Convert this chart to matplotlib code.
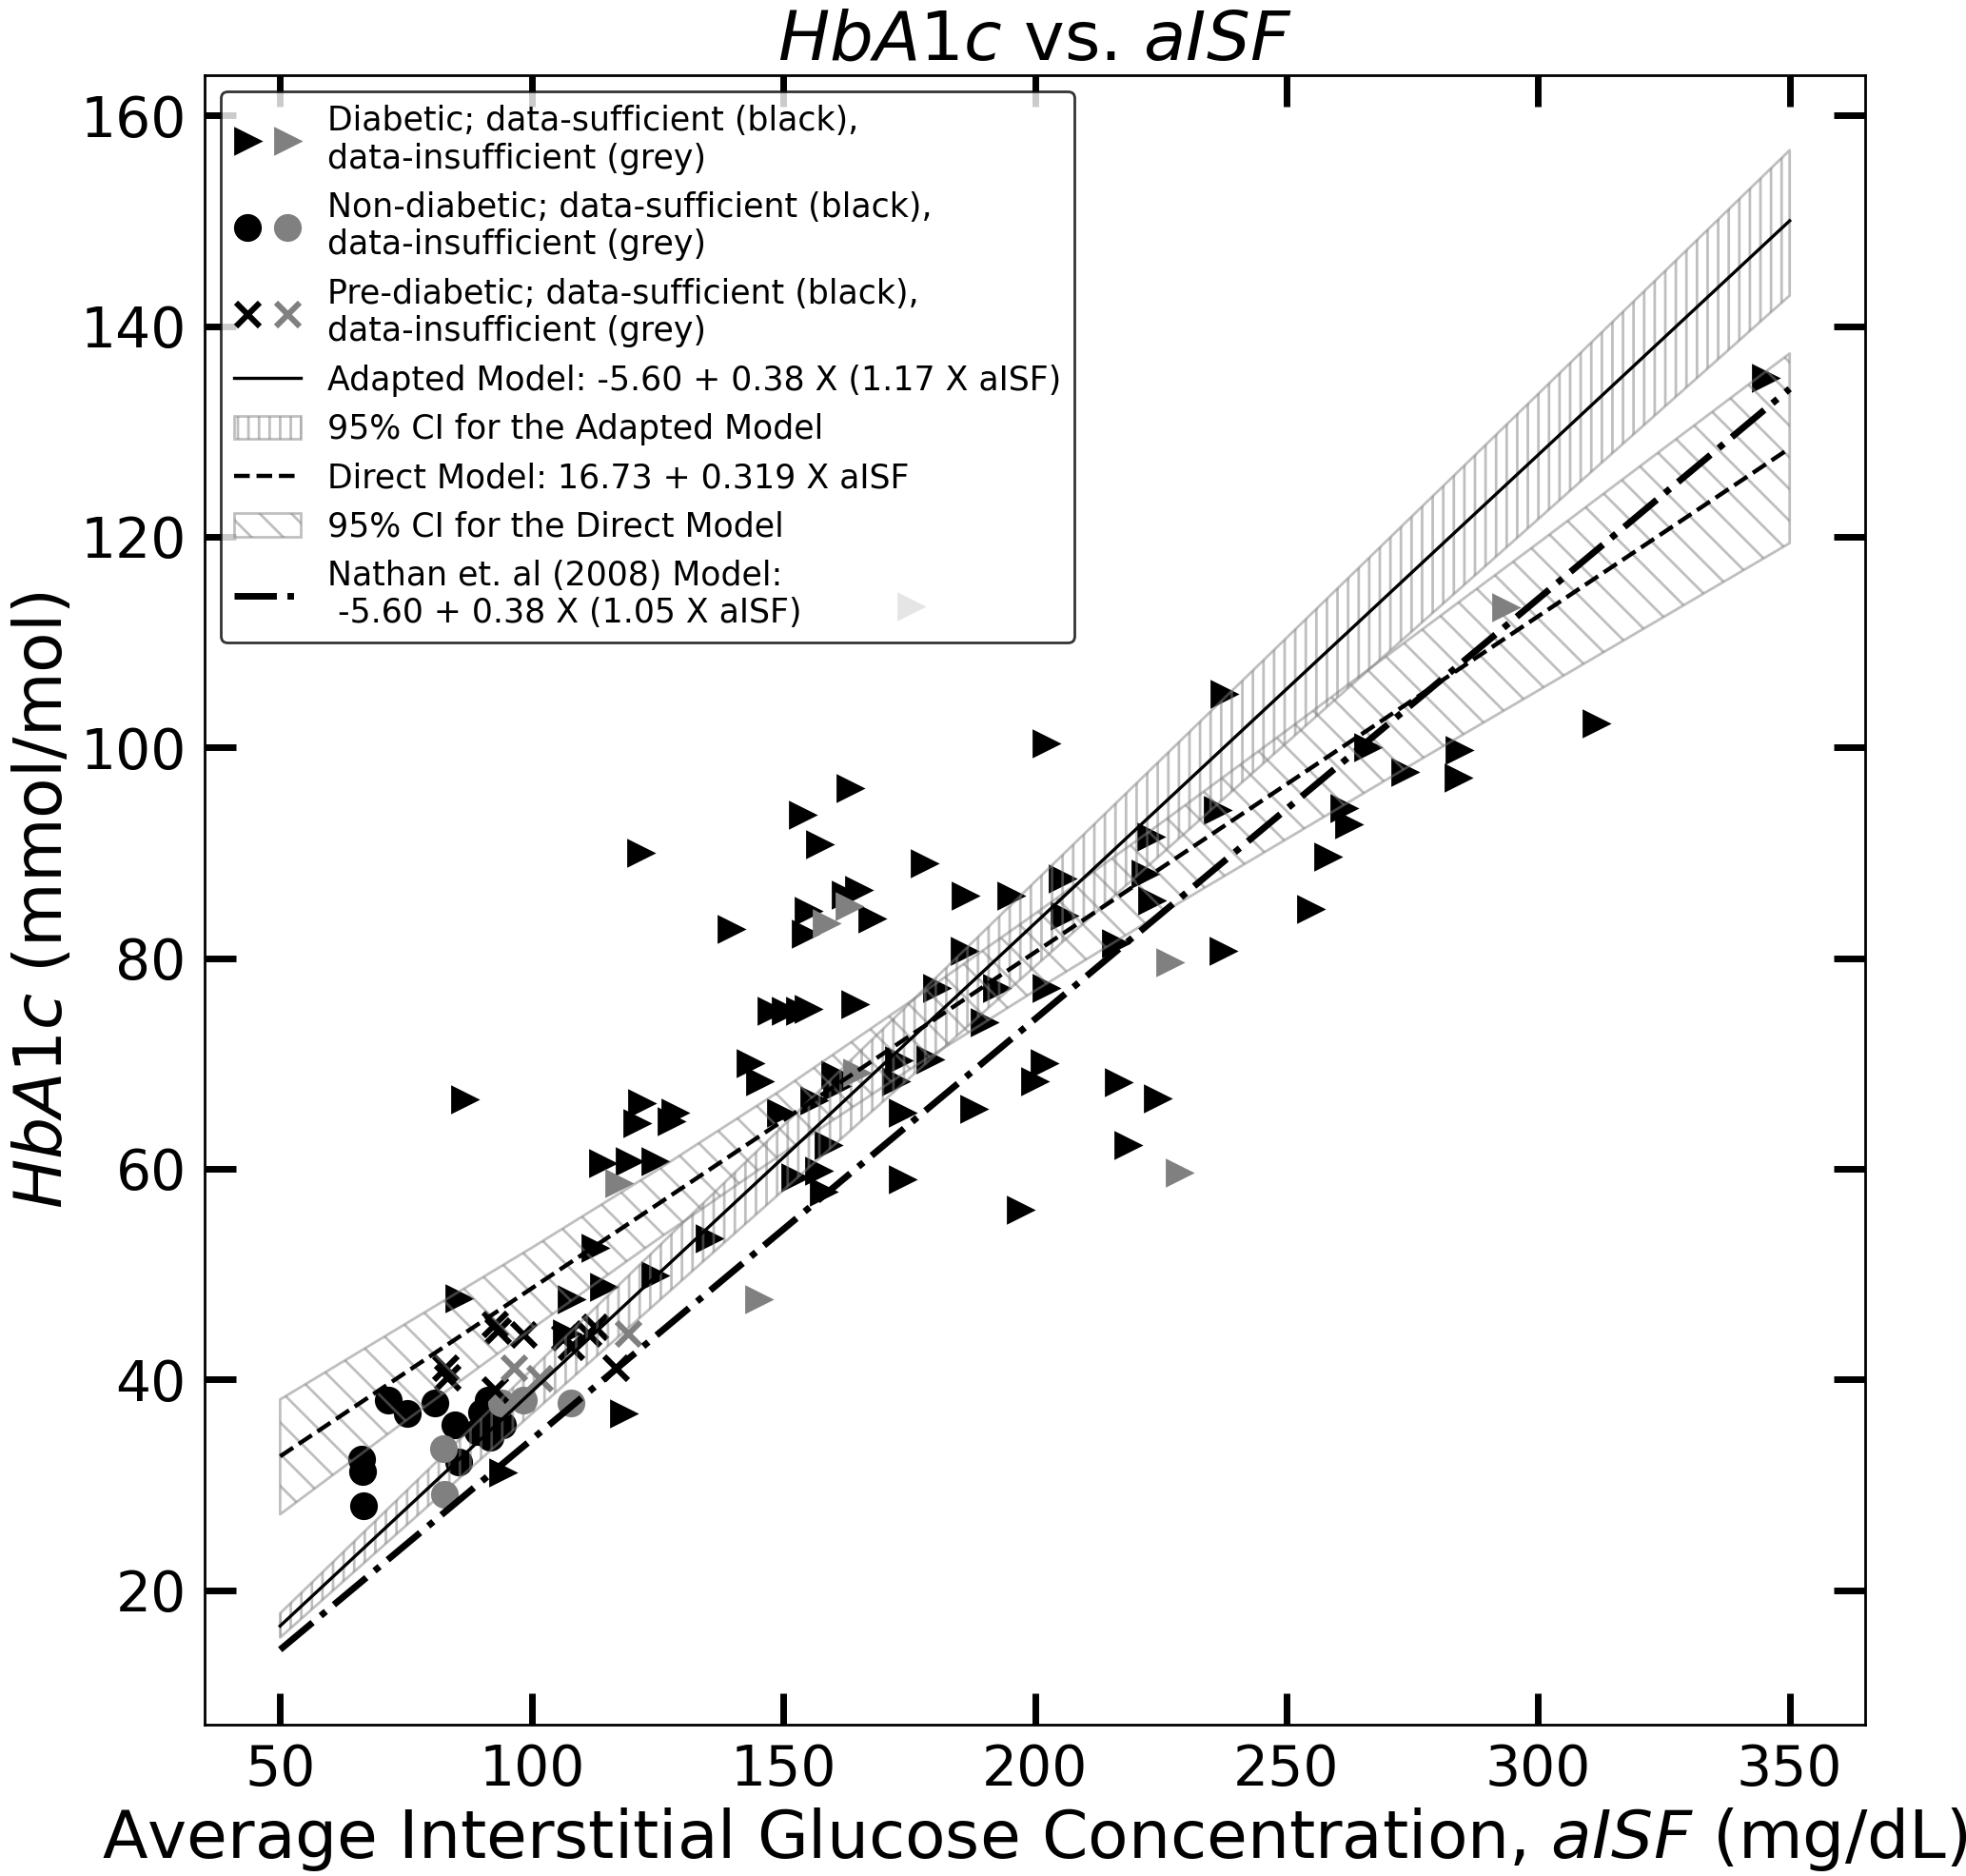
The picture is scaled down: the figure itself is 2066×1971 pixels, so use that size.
import matplotlib.pyplot as plt
from matplotlib.legend_handler import HandlerTuple
from matplotlib.patches import Patch

# diabetic, data-sufficient (black)
diab_x = [345.2, 311.4, 237.5, 202.1, 284.2, 266.1, 273.4, 284.0, 163.3, 153.7,
          236.2, 261.4, 262.4, 222.9, 258.1, 157.1, 121.6, 177.9, 164.9, 162.3,
          205.3, 186.1, 195.2, 221.9, 154.8, 167.5, 139.6, 154.3, 205.7, 223.2,
          254.8, 164.1, 147.6, 150.4, 153.2, 154.8, 180.5, 202.1, 185.9, 215.9,
          237.4, 192.3, 189.8, 143.3, 145.2, 160.1, 172.8, 179.1, 172.3, 160.5,
          201.8, 199.9, 216.5, 224.2, 156.0, 149.4, 173.7, 187.7, 121.7, 120.9,
          128.4, 127.6, 86.6, 114.1, 119.3, 124.5, 158.9, 218.5, 152.3, 157.0,
          173.7, 157.9, 197.0, 135.2, 112.5, 124.4, 114.2, 107.8, 85.5, 118.2,
          94.2, 106.8]
diab_y = [135.1, 102.3, 105.1, 100.4, 99.8, 100.0, 97.7, 97.1, 96.1, 93.6,
          94.1, 94.2, 92.7, 91.5, 89.6, 90.8, 90.0, 89.0, 86.5, 86.0,
          87.6, 85.9, 85.9, 88.0, 84.5, 83.8, 82.8, 82.3, 84.0, 85.5,
          84.7, 75.6, 75.0, 75.0, 75.0, 75.2, 77.2, 77.2, 80.7, 81.4,
          80.7, 77.2, 73.9, 70.0, 68.3, 68.9, 70.3, 70.4, 68.3, 67.9,
          70.0, 68.3, 68.2, 66.7, 66.5, 65.3, 65.3, 65.7, 66.2, 64.3,
          65.3, 64.5, 66.6, 60.5, 60.7, 60.7, 62.3, 62.3, 59.2, 59.8,
          59.0, 57.8, 56.1, 53.4, 52.5, 49.9, 48.8, 47.6, 47.7, 36.8,
          31.2, 44.4]

# diabetic, data-insufficient (grey)
diab_g_x = [293.5, 175.4, 226.7, 228.6, 163.0, 158.4, 117.2, 145.0, 164.6]
diab_g_y = [113.3, 113.4, 79.6, 59.6, 84.9, 83.3, 58.6, 47.6, 69.1]

# non-diabetic
nond_x = [66.1, 66.4, 66.6, 71.5, 75.3, 80.8, 84.7, 85.4, 91.4, 90.1, 94.2, 89.2, 91.7, 92.8]
nond_y = [32.4, 31.3, 28.0, 38.0, 36.8, 37.8, 35.7, 32.2, 38.0, 36.9, 35.7, 35.1, 34.5, 36.5]
nond_g_x = [82.5, 82.7, 93.9, 98.3, 107.8]
nond_g_y = [33.4, 29.1, 37.8, 38.0, 37.8]

# pre-diabetic
pre_x = [82.9, 83.2, 92.6, 93.3, 98.3, 92.6, 106.5, 107.8, 112.5, 111.2, 116.6]
pre_y = [41.1, 40.2, 45.3, 44.6, 44.3, 39.0, 44.0, 43.1, 45.0, 44.4, 41.1]
pre_g_x = [96.4, 101.5, 119.1]
pre_g_y = [41.1, 40.1, 44.4]

# model lines (end points)
model_x = [50, 350]
adapted_y = [16.6, 150.0]
direct_y = [32.7, 128.4]
nathan_y = [14.35, 134.05]

# confidence bands
ci_ad_x = [50, 350]
ci_ad_lo = [15.5, 142.9]
ci_ad_hi = [17.8, 156.7]

ci_dir_x = [50, 75, 100, 125, 150, 175, 200, 225, 250, 275, 300, 325, 350]
ci_dir_lo = [27.2, 36.1, 44.8, 53.3, 61.5, 69.4, 76.9, 84.2, 91.3, 98.4, 105.4, 112.4, 119.4]
ci_dir_hi = [38.1, 45.3, 52.5, 59.9, 67.6, 75.8, 84.2, 92.8, 101.6, 110.5, 119.4, 128.4, 137.4]

labels = ['Diabetic; data-sufficient (black),\ndata-insufficient (grey)',
          'Non-diabetic; data-sufficient (black),\ndata-insufficient (grey)',
          'Pre-diabetic; data-sufficient (black),\ndata-insufficient (grey)',
          'Adapted Model: -5.60 + 0.38 X (1.17 X aISF)',
          '95% CI for the Adapted Model',
          'Direct Model: 16.73 + 0.319 X aISF',
          '95% CI for the Direct Model',
          'Nathan et. al (2008) Model:\n -5.60 + 0.38 X (1.05 X aISF)']

fig = plt.figure(figsize=(10.33, 9.855), dpi=200)
ax = fig.add_axes([0.1041, 0.0807, 0.8446, 0.8792])

ms = 9.5
b_tri, = ax.plot(diab_x, diab_y, '>', color='k', ms=ms, ls='none')
g_tri, = ax.plot(diab_g_x, diab_g_y, '>', color='grey', ms=ms, ls='none')
b_cir, = ax.plot(nond_x, nond_y, 'o', color='k', ms=ms, ls='none')
g_cir, = ax.plot(nond_g_x, nond_g_y, 'o', color='grey', ms=ms, ls='none')
b_x, = ax.plot(pre_x, pre_y, 'x', color='k', ms=9, mew=2.2, ls='none')
g_x, = ax.plot(pre_g_x, pre_g_y, 'x', color='grey', ms=9, mew=2.2, ls='none')

ax.fill_between(ci_ad_x, ci_ad_lo, ci_ad_hi, facecolor='none', edgecolor='grey',
                hatch='|||', alpha=0.5, lw=1.0, zorder=3)
ax.fill_between(ci_dir_x, ci_dir_lo, ci_dir_hi, facecolor='none', edgecolor='grey',
                hatch='\\\\', alpha=0.5, lw=1.0, zorder=3)

l_ad, = ax.plot(model_x, adapted_y, '-', color='k', lw=1.2, zorder=4)
l_dir, = ax.plot(model_x, direct_y, '--', color='k', lw=1.6, zorder=4)
l_nat, = ax.plot(model_x, nathan_y, '-.', color='k', lw=2.5, zorder=4)

p_ad = Patch(facecolor='none', edgecolor='grey', hatch='|||', alpha=0.5)
p_dir = Patch(facecolor='none', edgecolor='grey', hatch='\\\\', alpha=0.5)

handles = [(b_tri, g_tri), (b_cir, g_cir), (b_x, g_x), l_ad, p_ad, l_dir, p_dir, l_nat]
ax.legend(handles, labels, loc='upper left', fontsize=12.5, edgecolor='black',
          handler_map={tuple: HandlerTuple(ndivide=None)})

ax.set_xticks([50, 100, 150, 200, 250, 300, 350])
ax.set_yticks([20, 40, 60, 80, 100, 120, 140, 160])
ax.tick_params(direction='in', top=True, right=True, length=12, width=2.5,
               labelsize=21, pad=7)
for s in ax.spines.values():
    s.set_linewidth(1.0)

ax.set_title(r'$HbA1c$ vs. $aISF$', fontsize=26)
ax.set_xlabel(r'Average Interstitial Glucose Concentration, $aISF$ (mg/dL)', fontsize=25,
              labelpad=3)
ax.set_ylabel(r'$HbA1c$ (mmol/mol)', fontsize=25, labelpad=2)

fig.savefig('out.png', dpi=200)
